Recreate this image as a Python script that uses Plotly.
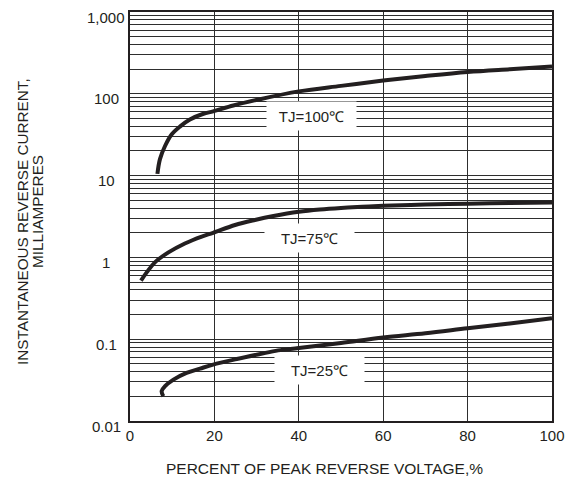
import math
import plotly.graph_objects as go

# ---- data ----
x_ticks = [0, 20, 40, 60, 80, 100]
y_decades = [0.01, 0.1, 1, 10, 100, 1000]
y_labels = ["0.01", "0.1", "1", "10", "100", "1,000"]

x_100 = [6.5, 7.1, 8.3, 9.9, 11.9, 14.2, 17.4, 19.7, 24.5, 30.4, 40, 50, 60, 70, 80, 90, 100]
y_100 = [10.5, 15.9, 23, 32, 40, 48.5, 57, 61, 72, 85, 107, 125, 145, 165, 185, 200, 215]

x_75 = [2.6, 4.0, 5.9, 9.1, 13.0, 17.0, 19.7, 24.9, 29.6, 34, 40, 45, 50, 55, 60, 70, 80, 90, 100]
y_75 = [0.52, 0.66, 0.87, 1.15, 1.48, 1.8, 2.0, 2.49, 2.87, 3.21, 3.62, 3.86, 4.03, 4.16, 4.27, 4.43, 4.54, 4.62, 4.68]

x_25 = [7.9, 7.5, 8.3, 10.3, 13.4, 16.6, 19.7, 25.3, 30.8, 35.1, 40, 50, 60, 70, 80, 90, 100]
y_25 = [0.0201, 0.0232, 0.0266, 0.032, 0.0387, 0.0437, 0.0489, 0.0572, 0.0658, 0.073, 0.078, 0.090, 0.105, 0.118, 0.136, 0.156, 0.18]

curve_labels = ["TJ=100℃", "TJ=75℃", "TJ=25℃"]
label_x = [43.0, 42.6, 45.0]
label_y = [53, 1.75, 0.0425]

x_title = "PERCENT OF PEAK REVERSE VOLTAGE,%"
y_title_lines = ["INSTANTANEOUS REVERSE CURRENT,", "MILLIAMPERES"]

# ---- figure ----
INK = "#231f20"
OFF = 8  # page body margin
W, H = 573 - OFF, 479 - OFF
ML, MR, MT, MB = 130 - OFF, 21, 10 - OFF, 58
PW, PH = W - ML - MR, H - MT - MB


def px_x(p):
    return (p - OFF - ML) / PW


def px_y(p):
    return (H - MB - (p - OFF)) / PH


fig = go.Figure()
for xs, ys in [(x_100, y_100), (x_75, y_75), (x_25, y_25)]:
    fig.add_trace(go.Scatter(
        x=xs, y=ys, mode="lines",
        line=dict(color=INK, width=4, shape="spline", smoothing=1.0),
        hoverinfo="skip", showlegend=False,
    ))

grid_vals = [d * m for d in y_decades[:-1] for m in range(1, 10)] + [y_decades[-1]]

fig.update_layout(
    width=W, height=H,
    margin=dict(l=ML, r=MR, t=MT, b=MB),
    paper_bgcolor="white", plot_bgcolor="white",
    showlegend=False,
    font=dict(family="Liberation Sans, Arial, sans-serif", size=15, color=INK),
)
fig.update_xaxes(
    range=[0, 100], tickvals=x_ticks, ticktext=[str(v) for v in x_ticks],
    showgrid=True, gridcolor="#2e2e2e", gridwidth=1.1,
    showline=True, linecolor=INK, linewidth=1.6, mirror=True,
    ticks="", zeroline=False, tickfont=dict(size=15),
)
fig.update_yaxes(
    type="log", range=[-2, 3], tickvals=grid_vals, showticklabels=False,
    showgrid=True, gridcolor="#2e2e2e", gridwidth=1.1,
    showline=True, linecolor=INK, linewidth=1.6, mirror=True,
    ticks="", zeroline=False,
)

# y tick labels (centered, as in the reference)
for v, t in zip(y_decades, y_labels):
    fig.add_annotation(
        x=px_x(106), xref="paper", y=math.log10(v), yref="y",
        text=t, showarrow=False, xanchor="center", yanchor="middle",
        yshift=-5, font=dict(size=15, color=INK),
    )

# curve labels with white boxes
for t, lx, ly in zip(curve_labels, label_x, label_y):
    fig.add_annotation(
        x=lx, y=math.log10(ly), xref="x", yref="y", text=t,
        showarrow=False, bgcolor="white", width=87, height=26,
        xanchor="center", yanchor="middle", align="center",
        font=dict(size=15, color=INK),
    )

# axis titles
fig.add_annotation(
    x=px_x(324), y=px_y(469), xref="paper", yref="paper", text=x_title,
    showarrow=False, xanchor="center", yanchor="middle",
    font=dict(size=15.5, color=INK),
)
for t, cx, cy in zip(y_title_lines, [23, 37], [221, 211]):
    fig.add_annotation(
        x=px_x(cx), y=px_y(cy), xref="paper", yref="paper", text=t,
        showarrow=False, xanchor="center", yanchor="middle", textangle=-90,
        font=dict(size=15.3, color=INK),
    )

fig.write_html("out.html")
